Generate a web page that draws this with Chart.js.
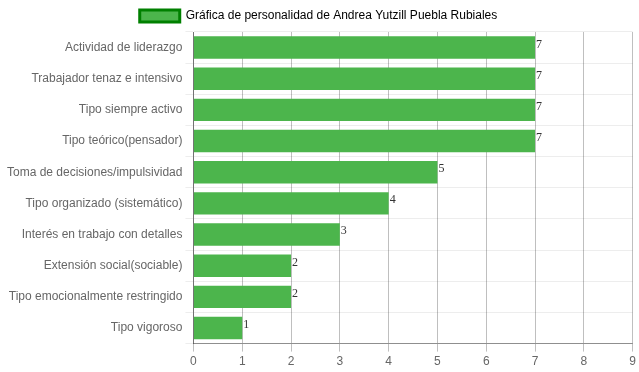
<!DOCTYPE html>
<html lang="es">
<head>
    <meta charset="UTF-8">
    <title>Gráfica de personalidad</title>
    <style>
        html, body { margin: 0; padding: 0; background: #fff; }
        .wrap { width: 639px; height: 372px; }
    </style>
</head>
<body>
    <div class="wrap"><canvas id="grafica"></canvas></div>

    <script src="https://cdn.jsdelivr.net/npm/chart.js"></script>
    <script>
        // Datos de la gráfica
        var categorias = [
            'Actividad de liderazgo',
            'Trabajador tenaz e intensivo',
            'Tipo siempre activo',
            'Tipo teórico(pensador)',
            'Toma de decisiones/impulsividad',
            'Tipo organizado (sistemático)',
            'Interés en trabajo con detalles',
            'Extensión social(sociable)',
            'Tipo emocionalmente restringido',
            'Tipo vigoroso'
        ];
        var valores = [7, 7, 7, 7, 5, 4, 3, 2, 2, 1];
        var titulo = 'Gráfica de personalidad de Andrea Yutzill Puebla Rubiales';

        Chart.defaults.font.family = "'Liberation Sans', Arial, Helvetica, sans-serif";
        Chart.defaults.font.size = 12;
        Chart.defaults.color = '#666';

        // Etiquetas con el valor al final de cada barra
        var etiquetas = {
            id: 'etiquetas',
            afterDatasetsDraw: function (chart) {
                var ctx = chart.ctx;
                ctx.save();
                ctx.font = "12px 'Liberation Serif', 'Times New Roman', serif";
                ctx.fillStyle = '#333';
                ctx.textAlign = 'left';
                ctx.textBaseline = 'top';
                chart.getDatasetMeta(0).data.forEach(function (bar, i) {
                    ctx.fillText(valores[i], bar.x + 1, bar.y - bar.height / 2 + 2);
                });
                ctx.restore();
            }
        };

        new Chart(document.getElementById('grafica'), {
            type: 'bar',
            data: {
                labels: categorias,
                datasets: [{
                    label: titulo,
                    data: valores,
                    backgroundColor: '#4cb54c',
                    borderColor: '#008000',
                    borderWidth: 0
                }]
            },
            options: {
                indexAxis: 'y',
                responsive: true,
                maintainAspectRatio: false,
                animation: false,
                layout: { padding: { top: 0, right: 6, bottom: 0, left: 4 } },
                plugins: {
                    legend: {
                        labels: {
                            boxWidth: 40,
                            boxHeight: 12,
                            generateLabels: function (chart) {
                                return [{
                                    text: titulo,
                                    fillStyle: '#4cb54c',
                                    strokeStyle: '#008000',
                                    lineWidth: 3,
                                    datasetIndex: 0
                                }];
                            }
                        }
                    },
                    tooltip: { enabled: false }
                },
                scales: {
                    x: {
                        min: 0,
                        max: 9,
                        ticks: { stepSize: 1 },
                        grid: { color: 'rgba(0,0,0,0.25)' },
                        border: { color: 'rgba(0,0,0,0.4)' }
                    },
                    y: {
                        grid: { color: 'rgba(0,0,0,0.07)' },
                        border: { color: 'rgba(0,0,0,0.4)' }
                    }
                }
            },
            plugins: [etiquetas]
        });
    </script>
</body>
</html>
